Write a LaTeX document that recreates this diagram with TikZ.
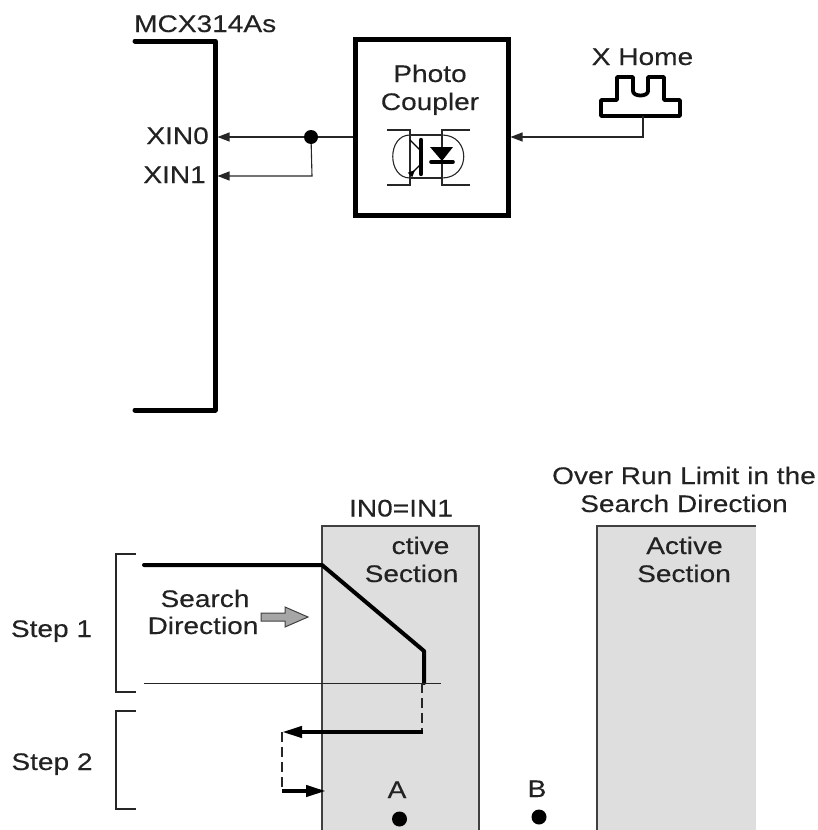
\documentclass[tikz,border=0pt]{standalone}
\usepackage{fontspec}
\setmainfont[FakeStretch=1.17,FakeBold=0.25]{Liberation Sans}
\usetikzlibrary{arrows.meta}
\definecolor{txt}{HTML}{222222}
\definecolor{sec}{HTML}{DEDEDE}
\tikzset{
  x=1pt,y=-1pt,
  lbl/.style={inner sep=0pt,anchor=base,font=\fontsize{24pt}{28pt}\selectfont,text=txt},
  thickln/.style={line width=5pt,line join=round,line cap=round},
  medln/.style={line width=4pt,line join=round,line cap=round},
  thinln/.style={line width=1.1pt,draw=black!85},
  dashln/.style={line width=1.1pt,dash pattern=on 10pt off 5pt,draw=black!85},
  tipsm/.style={-{Triangle[length=12pt,width=9pt]}},
  tipbig/.style={-{Triangle[length=20pt,width=11pt]}},
  secbox/.style={fill=sec,draw=none},
  secedge/.style={line width=1.1pt,draw=black!75},
}
\begin{document}
\begin{tikzpicture}
\useasboundingbox (0,0) rectangle (818,830);
% upper part
\draw[thickln] (135,41) -- (215,41) -- (215,410) -- (135,410);
\node[lbl,anchor=base west] (chip) at (134,32) {MCX314As};
\node[lbl,anchor=base east] (xa) at (209,144) {XIN0};
\node[lbl,anchor=base east] (xb) at (206,183) {XIN1};
\coordinate (pin0) at (217.5,137);
\coordinate (pin1) at (217.5,176);
\coordinate (pinh) at (510.5,137);
\node[draw,line width=5pt,minimum width=153pt,minimum height=176pt,inner sep=0pt] (pc) at (431.5,127) {};
\node[lbl] (ph) at (430,82) {Photo};
\node[lbl] (cp) at (430,110) {Coupler};
\node[circle,fill=black,minimum size=14pt,inner sep=0pt] (jn) at (311,137) {};
\draw[thinln,tipsm] (pc.west |- jn) -- (jn) -- (pin0);
\draw[thinln,tipsm] (jn) -- (312,176) -- (pin1);
% coupler icon
\draw[line width=1.1pt,black!85] (387,130) -- (410,130) -- (410,185) -- (387,185);
\draw[line width=1.1pt,black!85] (470,130) -- (442,130) -- (442,185) -- (470,185);
\draw[line width=1.1pt,black!85] (410,135) -- (442,135) (410,178) -- (442,178);
\draw[line width=1.1pt,black!85] (410,135) .. controls (387,135) and (387,178) .. (410,178);
\draw[line width=1.1pt,black!85] (442,135) .. controls (471,135) and (471,178) .. (442,178);
\draw[line width=4.4pt,line cap=round] (421,140) -- (421,174);
\draw[line width=1.1pt] (410,140) -- (420,150);
\draw[line width=1.2pt,-{Triangle[length=7pt,width=6pt,reversed]}] (420,165) -- (410,175);
\fill (430,147) -- (453,147) -- (442,161) -- cycle;
\draw[line width=3.6pt,line cap=round] (431,162) -- (453,162);
% home pulse
\node[lbl] (hm) at (642.5,65) {X Home};
\coordinate (plsb) at (643,116);
\draw[line width=3.8pt,line join=round] (601,116) -- (601,100) -- (617,100) -- (617,77) -- (633,77) -- (633,91)
  .. controls (633,97) and (648,97) .. (648,91) -- (648,77) -- (664,77) -- (664,100) -- (680,100) -- (680,116) -- cycle;
\draw[thinln,tipsm] (plsb) -- (643,137) -- (pinh);
% lower part: sections
\fill[secbox] (322,526) rectangle (479,830);
\draw[secedge] (322,830) -- (322,526) -- (479,526) -- (479,830);
\fill[secbox] (597,526) rectangle (756,830);
\draw[secedge] (597,830) -- (597,526) -- (756,526);
\node[lbl] (t1) at (684,484) {Over Run Limit in the};
\node[lbl] (t2) at (684,512) {Search Direction};
\node[lbl] (t3) at (401,516.5) {IN0=IN1};
\node[lbl] (t4) at (420.5,554) {ctive};
\node[lbl] (t5) at (411.5,582) {Section};
\node[lbl] (t6) at (684.5,554) {Active};
\node[lbl] (t7) at (684,582) {Section};
\node[lbl] (s1) at (51.5,637) {Step 1};
\node[lbl] (s2) at (52,770) {Step 2};
\node[lbl] (sa) at (205,607) {Search};
\node[lbl] (sb) at (203,634) {Direction};
\draw[line width=1.1pt,black!85] (136,554) -- (116,554) -- (116,692) -- (136,692);
\draw[line width=1.1pt,black!85] (136,711) -- (116,711) -- (116,809) -- (136,809);
\draw[fill=black!35,draw=black!75,line width=1pt] (261,613) -- (285,613) -- (285,607) -- (308,617) -- (285,627) -- (285,621) -- (261,621) -- cycle;
\draw[medln] (144,565) -- (322,565) -- (424,651) -- (424,683);
\draw[line width=1pt,black!85] (144,683) -- (441,683);
\draw[dashln] (422,683) -- (422,732);
\draw[medln,line cap=butt,tipbig] (423,732) -- (282,732);
\draw[dashln] (282,732) -- (282,790);
\draw[medln,line cap=butt,tipbig] (282,791) -- (326,791);
\node[lbl] (la) at (397,798) {A};
\node[circle,fill=black,minimum size=15pt,inner sep=0pt] (da) at (399.5,819) {};
\node[lbl] (lb) at (537,797) {B};
\node[circle,fill=black,minimum size=15pt,inner sep=0pt] (db) at (539,817) {};
\end{tikzpicture}
\end{document}
